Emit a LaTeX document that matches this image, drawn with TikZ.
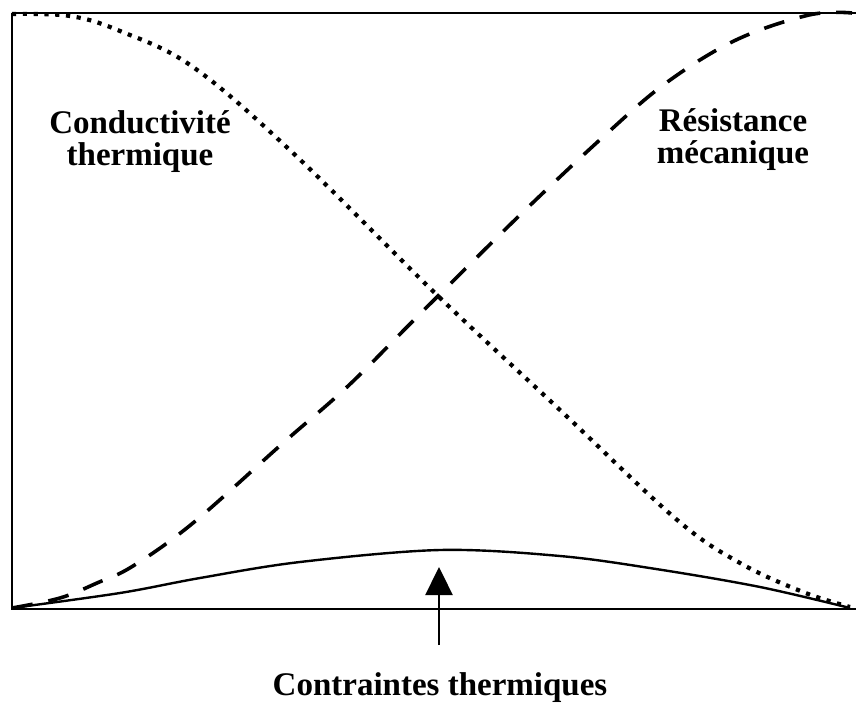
\documentclass[tikz,border=0pt]{standalone}
\usepackage{fontspec}
\setmainfont{Liberation Serif}
\usetikzlibrary{arrows.meta}
\tikzset{
  frame/.style={line width=2pt},
  dotcurve/.style={line width=4.2pt, dash pattern=on 4.2pt off 6.6pt},
  dashcurve/.style={line width=3.6pt, dash pattern=on 21pt off 16pt},
  solidcurve/.style={line width=2.4pt},
  lbl/.style={font=\fontsize{33}{32}\selectfont\bfseries, align=center, inner sep=0pt, anchor=base},
  pointer/.style={line width=2.4pt, -{Triangle[width=27pt,length=28pt]}}
}
\begin{document}
\begin{tikzpicture}[x=1pt,y=-1pt]
\useasboundingbox (0,0) rectangle (856,703);
% frame
\draw[frame] (12,13) -- (858,13);
\draw[frame] (858,609) -- (12,609) -- (12,13);
% dotted curve: thermal conductivity
\draw[dotcurve] plot[smooth, tension=0.6] coordinates {
  (12,14) (70,16) (120,31) (193,67) (293,153) (437,295) (560,410)
  (676,519) (740,563) (803,592) (850,607)};
% dashed curve: mechanical strength
\draw[dashcurve] plot[smooth, tension=0.6] coordinates {
  (12,608) (60,598) (97,583) (133,566) (193,523) (283,443) (347,387)
  (407,327) (437,297) (520,215) (603,137) (666,83) (736,40) (809,15) (852,13)};
% solid curve: thermal stresses
\draw[solidcurve] plot[smooth, tension=0.55] coordinates {
  (12,608) (120,593) (200,578) (300,562) (440,550)
  (560,556) (656,569) (760,587) (850,608)};
% labels
\node[lbl] (cond) at (140,166) {Conductivité\\thermique};
\node[lbl] (res) at (733,164) {Résistance\\mécanique};
\node[lbl] (ct) at (440,695) {Contraintes thermiques};
\coordinate (arrowtail) at (439,645);
\coordinate (arrowtip) at (439,567);
\draw[pointer] (arrowtail) -- (arrowtip);
\end{tikzpicture}
\end{document}
